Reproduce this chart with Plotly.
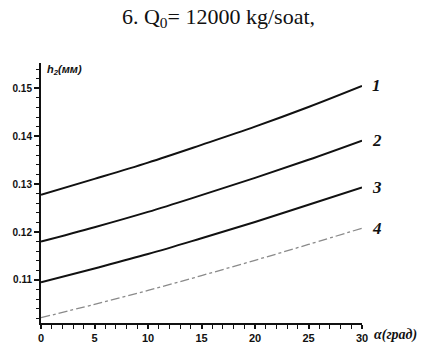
import plotly.graph_objects as go

alpha = [0, 5, 10, 15, 20, 25, 30]
h1 = [0.1278, 0.1311, 0.1345, 0.1382, 0.1420, 0.1461, 0.1505]
h2 = [0.1180, 0.1210, 0.1242, 0.1277, 0.1313, 0.1351, 0.1391]
h3 = [0.1095, 0.1124, 0.1154, 0.1187, 0.1221, 0.1257, 0.1293]
h4 = [0.1021, 0.1049, 0.1078, 0.1109, 0.1141, 0.1174, 0.1208]
series = [("1", h1), ("2", h2), ("3", h3), ("4", h4)]

fig = go.Figure()
for name, ys in series:
    if name == "4":
        line = dict(color="#8a8a8a", width=1.3, dash="dashdot", shape="spline")
    else:
        line = dict(color="#111111", width=2, shape="spline")
    fig.add_trace(go.Scatter(x=alpha, y=ys, mode="lines", line=line, showlegend=False))
    fig.add_annotation(x=alpha[-1], y=ys[-1], text="<b><i>" + name + "</i></b>", showarrow=False,
                       xanchor="left", yanchor="middle", xshift=8,
                       font=dict(family="Liberation Serif", size=17, color="#111111"))

fig.update_layout(
    width=437, height=356,
    margin=dict(l=41, r=75, t=63, b=19),
    paper_bgcolor="white", plot_bgcolor="white",
    title=dict(text="6. Q<sub>0</sub>= 12000 kg/soat,", x=0.5, xanchor="center", y=0.955, yanchor="middle",
               font=dict(family="Liberation Serif", size=22, color="#111111")),
)
fig.update_xaxes(range=[0, 30], tickmode="linear", tick0=0, dtick=5,
                 showgrid=False, zeroline=False, showline=True, linecolor="#111111", linewidth=2,
                 ticks="outside", ticklen=4, tickwidth=1.6, tickcolor="#111111",
                 minor=dict(tickmode="linear", tick0=0, dtick=1, ticks="outside", ticklen=4,
                            tickwidth=1.4, tickcolor="#111111", showgrid=False),
                 tickfont=dict(family="Liberation Sans", size=11, color="#111111", weight="bold"))
fig.update_yaxes(range=[0.1010, 0.1553], tickmode="linear", tick0=0.11, dtick=0.01, tickformat=".2f",
                 showgrid=False, zeroline=False, showline=True, linecolor="#111111", linewidth=2,
                 ticks="outside", ticklen=5, tickwidth=1.6, tickcolor="#111111",
                 minor=dict(tickmode="linear", tick0=0.11, dtick=0.002, ticks="outside", ticklen=3,
                            tickwidth=1.4, tickcolor="#111111", showgrid=False),
                 tickfont=dict(family="Liberation Sans", size=10, color="#111111", weight="bold"))
fig.add_annotation(x=0, y=1, xref="paper", yref="paper", text="<b><i>h<sub>2</sub>(мм)</i></b>", showarrow=False,
                   xanchor="left", yanchor="top", xshift=4, yshift=2,
                   font=dict(family="Liberation Sans", size=11, color="#111111"))
fig.add_annotation(x=1, y=0, xref="paper", yref="paper", text="<b><i>α(град)</i></b>", showarrow=False,
                   xanchor="left", yanchor="top", xshift=10, yshift=-2,
                   font=dict(family="Liberation Serif", size=14, color="#111111"))
fig.write_html("out.html")
